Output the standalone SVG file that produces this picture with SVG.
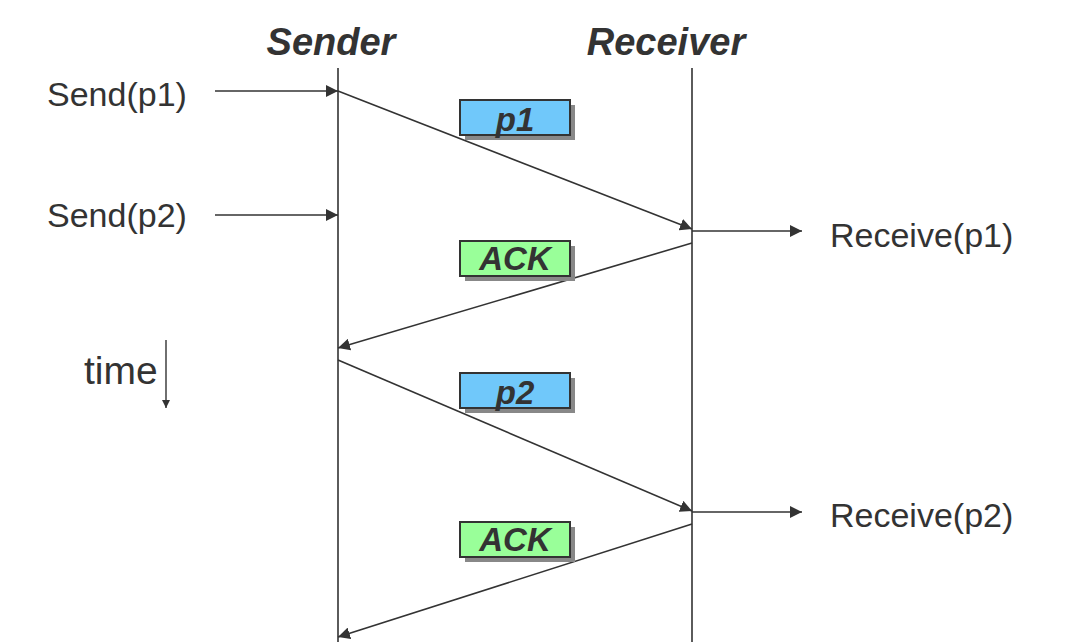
<svg xmlns="http://www.w3.org/2000/svg" width="1066" height="642" viewBox="0 0 1066 642">
<defs>
<marker id="ah" viewBox="0 0 10 10" refX="10" refY="5" markerWidth="12" markerHeight="12" markerUnits="userSpaceOnUse" orient="auto"><path d="M0,0 L10,5 L0,10 z" fill="#333"/></marker>
<marker id="ahs" viewBox="0 0 10 10" refX="10" refY="5" markerWidth="8" markerHeight="8" markerUnits="userSpaceOnUse" orient="auto"><path d="M0,0 L10,5 L0,10 z" fill="#333"/></marker>
</defs>
<style>
.life{stroke:#333;stroke-width:1.6;fill:none}
.msg{stroke:#333;stroke-width:1.6;fill:none;marker-end:url(#ah)}
.hdr{font-family:"Liberation Sans",Arial,sans-serif;font-weight:bold;font-style:italic;font-size:38px;fill:#333;text-anchor:middle}
.lbl{font-family:"Liberation Sans",Arial,sans-serif;font-size:34px;fill:#333}
.btxt{font-family:"Liberation Sans",Arial,sans-serif;font-weight:bold;font-style:italic;font-size:33px;fill:#333;text-anchor:middle}
.shadow{fill:#888}
.blue{fill:#70C8FA;stroke:#333;stroke-width:2}
.green{fill:#99FF99;stroke:#333;stroke-width:2}
</style>
<rect width="1066" height="642" fill="#fff"/>
<g id="sender"><text class="hdr" x="331" y="55">Sender</text><line class="life" x1="338" y1="68" x2="338" y2="642"/></g>
<g id="receiver"><text class="hdr" x="666" y="55">Receiver</text><line class="life" x1="692" y1="68" x2="692" y2="642"/></g>
<g id="send-p1"><text class="lbl" x="47" y="106">Send(p1)</text></g>
<g id="send-p2"><text class="lbl" x="47" y="227">Send(p2)</text></g>
<g id="recv-p1"><text class="lbl" x="830" y="247">Receive(p1)</text></g>
<g id="recv-p2"><text class="lbl" x="830" y="527">Receive(p2)</text></g>
<g id="time"><text class="lbl" x="84" y="384" style="font-size:39px">time</text><line x1="166" y1="340" x2="166" y2="408" stroke="#333" stroke-width="1.4" marker-end="url(#ahs)"/></g>
<g id="connectors">
<line class="msg" x1="215" y1="91" x2="338" y2="91"/>
<line class="msg" x1="215" y1="215" x2="338" y2="215"/>
<line class="msg" x1="338" y1="91" x2="692" y2="229"/>
<line class="msg" x1="692" y1="243" x2="338" y2="348"/>
<line class="msg" x1="338" y1="360" x2="692" y2="511"/>
<line class="msg" x1="692" y1="524" x2="338" y2="637"/>
<line class="msg" x1="692" y1="231" x2="802" y2="231"/>
<line class="msg" x1="692" y1="512" x2="802" y2="512"/>
</g>
<g id="box-p1"><rect class="shadow" x="465" y="105" width="110" height="35"/><rect class="blue" x="460" y="100" width="110" height="35"/><text class="btxt" x="515" y="131">p1</text></g>
<g id="box-ack1"><rect class="shadow" x="465" y="246" width="110" height="35"/><rect class="green" x="460" y="241" width="110" height="35"/><text class="btxt" x="515" y="270">ACK</text></g>
<g id="box-p2"><rect class="shadow" x="465" y="378" width="110" height="35"/><rect class="blue" x="460" y="373" width="110" height="35"/><text class="btxt" x="515" y="404">p2</text></g>
<g id="box-ack2"><rect class="shadow" x="465" y="527" width="110" height="35"/><rect class="green" x="460" y="522" width="110" height="35"/><text class="btxt" x="515" y="551">ACK</text></g>
</svg>
